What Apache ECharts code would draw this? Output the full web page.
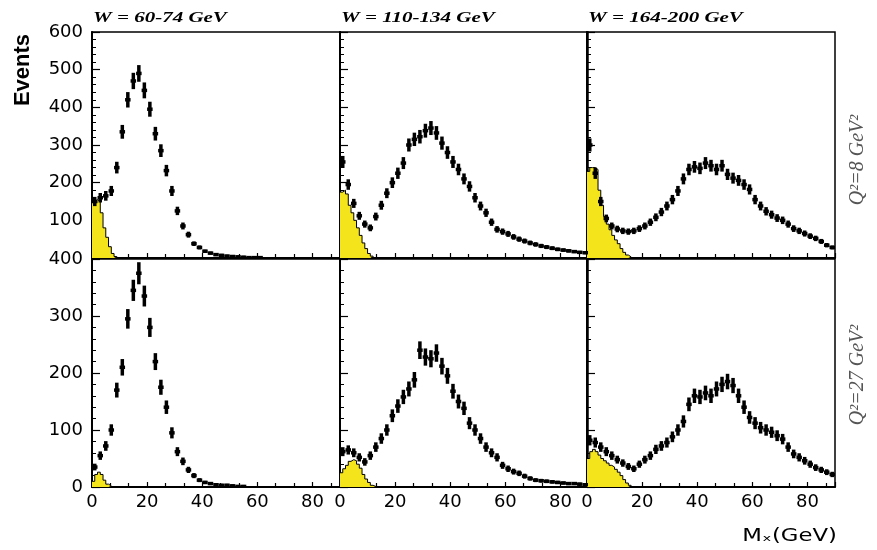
<!DOCTYPE html>
<html><head><meta charset="utf-8">
<script src="https://cdn.jsdelivr.net/npm/echarts@6/dist/echarts.min.js"></script>
<style>html,body{margin:0;padding:0;background:#fff}#c{width:877px;height:550px}</style>
</head><body><div id="c"></div>
<script>
// ---- data ----
const xTicks = [0, 20, 40, 60, 80];
const wTitles = ['W = 60-74 GeV', 'W = 110-134 GeV', 'W = 164-200 GeV'];
const q2Labels = ['Q\u00b2=8 GeV\u00b2', 'Q\u00b2=27 GeV\u00b2'];
// data bin centres (GeV), 2 GeV bins
const binCenters = [1,3,5,7,9,11,13,15,17,19,21,23,25,27,29,31,33,35,37,39,41,43,45,47,49,51,53,55,57,59,61,63,65,67,69,71,73,75,77,79,81,83,85,87,89];
// measured events per bin
const dataTL = [150,160,165,178,240,335,420,470,490,445, 395,330,285,232,178,125,85,62,38,28, 18,13,9,7,5,4,3,2,1,1, 1,0,0,0,0,0,0,0,0,0, 0,0,0,0,0];
const dataTM = [255,195,145,112,90,80,110,140,172,200, 225,252,300,315,322,338,345,332,305,280, 255,235,210,190,160,138,120,95,76,70, 64,56,50,45,40,36,32,29,26,23, 21,19,17,15,14];
const dataTR = [300,225,150,105,85,77,72,70,72,78, 85,95,108,122,138,155,178,210,235,242, 238,252,245,235,245,222,212,206,195,182, 155,138,124,115,106,100,90,78,72,65, 58,52,44,34,28];
const dataBL = [35,55,72,100,170,210,295,345,375,335, 280,220,175,140,95,62,45,30,20,12, 8,6,4,3,3,2,1,1,0,0, 0,0,0,0,0,0,0,0,0,0, 0,0,0,0,0];
const dataBM = [62,65,60,52,44,55,70,85,100,125, 142,158,172,188,240,228,225,235,212,195, 168,150,138,112,100,85,70,60,52,38, 32,27,24,19,15,12,11,10,9,8, 7,6,6,5,4];
const dataBR = [82,78,70,62,55,48,42,36,32,40, 48,55,66,72,78,88,100,115,145,160, 158,165,160,172,180,185,178,160,140,122, 112,104,100,96,90,84,70,58,52,46, 40,34,30,26,22];
// yellow histogram, 1 GeV bins starting at 0
const yelTL = [150,155,150,120,80,55,30,12,4];
const yelTM = [175,180,170,140,120,100,80,60,40,25,12,5];
const yelTR = [230,240,240,235,180,140,110,90,75,60,48,38,25,15,8,3];
const yelBL = [10,22,26,22,12,5,2];
const yelBM = [25,32,38,45,48,46,40,33,22,14,8,3,1];
const yelBR = [50,62,66,62,56,50,46,42,38,35,31,26,20,13,7,3];

const panelData = [dataTL, dataTM, dataTR, dataBL, dataBM, dataBR];
const panelYel = [yelTL, yelTM, yelTR, yelBL, yelBM, yelBR];
const yMaxRow = [600, 400];

// ---- layout ----
const colLeft = [92, 340, 587], colW = 248;
const rowTop = [32, 259], rowH = [226, 228];
const YELLOW = '#f4e41c';
const BIN_W = 2;

const grids = [], xAxes = [], yAxes = [], series = [];
const axLine = {show: true, onZero: false, lineStyle: {color: '#000', width: 2}};
const lblFont = {fontFamily: 'DejaVu Sans', fontSize: 18, color: '#000'};

for (let r = 0; r < 2; r++) {
  for (let c = 0; c < 3; c++) {
    const i = r * 3 + c;
    grids.push({left: colLeft[c], top: rowTop[r], width: colW, height: rowH[r],
      show: true, borderColor: '#000', borderWidth: 1.5, backgroundColor: 'transparent'});
    xAxes.push({type: 'value', gridIndex: i, min: 0, max: 90, interval: 20,
      axisLine: axLine,
      axisTick: {show: true, inside: true, length: 5, lineStyle: {color: '#000', width: 1.2}},
      minorTick: {show: true, splitNumber: 3, length: 4, lineStyle: {color: '#000', width: 1.2}},
      splitLine: {show: false}, minorSplitLine: {show: false},
      axisLabel: Object.assign({show: r === 1, margin: 6, showMaxLabel: false,
        formatter: v => xTicks.indexOf(v) >= 0 ? String(v) : ''}, lblFont)});
    yAxes.push({type: 'value', gridIndex: i, min: 0, max: yMaxRow[r], interval: 100,
      axisLine: axLine,
      axisTick: {show: true, inside: true, length: 8, lineStyle: {color: '#000', width: 1.2}},
      minorTick: {show: true, splitNumber: 5, length: 4, lineStyle: {color: '#000', width: 1}},
      splitLine: {show: false}, minorSplitLine: {show: false},
      axisLabel: Object.assign({show: c === 0, margin: 9, showMinLabel: r === 1}, lblFont)});
    const yel = panelYel[i].map((v, k) => [k, v]);
    yel.push([panelYel[i].length, 0]);
    series.push({type: 'line', xAxisIndex: i, yAxisIndex: i, step: 'end', symbol: 'none',
      data: yel, lineStyle: {color: '#000', width: 1}, areaStyle: {color: YELLOW, opacity: 1}, z: 2});
    series.push({type: 'custom', xAxisIndex: i, yAxisIndex: i, clip: true, z: 3,
      data: binCenters.map((x, k) => [x, panelData[i][k]]),
      encode: {x: 0, y: 1},
      renderItem: function (params, api) {
        const x = api.value(0), v = api.value(1);
        if (!(v > 0)) return null;
        const err = Math.sqrt(v);
        const top = api.coord([x, v + err]);
        const bot = api.coord([x, Math.max(v - err, 0)]);
        const mid = api.coord([x, v]);
        const bw = api.size([BIN_W, 0])[0];
        const w = 3.5;
        let y0 = top[1], h = bot[1] - top[1];
        if (h < 3) { y0 = (top[1] + bot[1]) / 2 - 1.5; h = 3; }
        return {type: 'group', children: [
          {type: 'rect', shape: {x: top[0] - w / 2, y: y0, width: w, height: h}, style: {fill: '#000'}},
          {type: 'rect', shape: {x: mid[0] - bw / 2, y: mid[1] - 1.75, width: bw, height: 3.5}, style: {fill: '#000'}}
        ]};
      }});
  }
}

const graphics = [];
wTitles.forEach((t, c) => {
  graphics.push({type: 'text', x: colLeft[c] + 1, y: 18, scaleX: 1.4,
    style: {text: t, font: 'italic bold 15px "Liberation Serif"', fill: '#000', verticalAlign: 'middle'}});
});
graphics.push({type: 'text', x: 858, y: 160, rotation: Math.PI / 2,
  style: {text: q2Labels[0], font: 'italic 20px "Liberation Serif"', fill: '#555', align: 'center', verticalAlign: 'middle'}});
graphics.push({type: 'text', x: 858, y: 375, rotation: Math.PI / 2,
  style: {text: q2Labels[1], font: 'italic 20px "Liberation Serif"', fill: '#555', align: 'center', verticalAlign: 'middle'}});
graphics.push({type: 'text', x: 23, y: 70, rotation: Math.PI / 2,
  style: {text: 'Events', font: 'bold 22px "Liberation Sans"', fill: '#000', align: 'center', verticalAlign: 'middle'}});
graphics.push({type: 'text', x: 837, y: 537, scaleX: 1.34,
  style: {text: 'M\u2093(GeV)', font: '17px "DejaVu Sans"', fill: '#000', align: 'right', verticalAlign: 'middle'}});

const chart = echarts.init(document.getElementById('c'), null, {renderer: 'canvas'});
chart.setOption({animation: false, backgroundColor: '#fff',
  grid: grids, xAxis: xAxes, yAxis: yAxes, series: series, graphic: graphics});
</script></body></html>
